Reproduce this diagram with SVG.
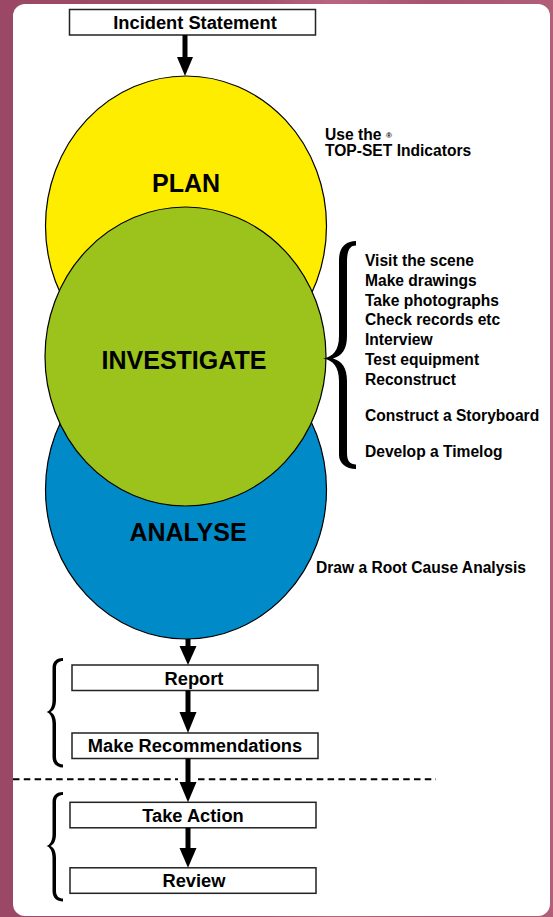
<svg xmlns="http://www.w3.org/2000/svg" width="553" height="917" viewBox="0 0 553 917">
  <defs>
    <linearGradient id="bg" x1="0" y1="0" x2="1" y2="0">
      <stop offset="0" stop-color="#9b4867"/>
      <stop offset="0.45" stop-color="#a14d6b"/>
      <stop offset="0.6" stop-color="#b8667f"/>
      <stop offset="0.78" stop-color="#a8536f"/>
      <stop offset="1" stop-color="#b15e79"/>
    </linearGradient>
    <style>
      .lbl { font-family: "Liberation Sans", Arial, sans-serif; font-weight: bold; fill: #000; }
      .box { fill: #fff; stroke: #222; stroke-width: 1.5; }
      .boxtxt { font-size: 18.3px; text-anchor: middle; }
      .big { font-size: 25px; text-anchor: middle; }
      .note { font-size: 15.6px; }
      .ell { stroke: #000; stroke-width: 1.2; }
      .shaft { stroke: #000; stroke-width: 5; fill: none; }
      .head { fill: #000; }
      .brace { fill: #000; }
    </style>
  </defs>

  <rect x="0" y="0" width="553" height="917" fill="url(#bg)"/>
  <rect x="13" y="4" width="537" height="912" rx="12" ry="12" fill="#fff"/>

  <!-- circles -->
  <g id="plan">
    <ellipse class="ell" cx="186" cy="226" rx="140.5" ry="150" fill="#ffed00"/>
    <text class="lbl big" x="186" y="191.7">PLAN</text>
  </g>
  <g id="analyse">
    <ellipse class="ell" cx="186" cy="489.5" rx="140.5" ry="149.5" fill="#008bc8"/>
    <text class="lbl big" x="188" y="541">ANALYSE</text>
  </g>
  <g id="investigate">
    <ellipse class="ell" cx="185.5" cy="356.5" rx="140.5" ry="149.5" fill="#9bc31b"/>
    <text class="lbl big" x="184" y="369.3">INVESTIGATE</text>
  </g>

  <!-- boxes -->
  <g id="incident">
    <rect class="box" x="69.5" y="9.5" width="246" height="25.5"/>
    <text class="lbl boxtxt" x="195" y="29.3">Incident Statement</text>
  </g>
  <g id="report">
    <rect class="box" x="72" y="665" width="246" height="25.5"/>
    <text class="lbl boxtxt" x="194" y="685">Report</text>
  </g>
  <g id="recommend">
    <rect class="box" x="72" y="733" width="246" height="25.5"/>
    <text class="lbl boxtxt" x="195" y="752.3">Make Recommendations</text>
  </g>
  <g id="action">
    <rect class="box" x="70" y="802.3" width="246" height="25.5"/>
    <text class="lbl boxtxt" x="193" y="821.7">Take Action</text>
  </g>
  <g id="review">
    <rect class="box" x="70" y="867.8" width="246" height="25.5"/>
    <text class="lbl boxtxt" x="194" y="887.3">Review</text>
  </g>

  <!-- annotations -->
  <g id="plan-note">
    <text class="lbl note" x="325" y="140">Use the</text>
    <text class="lbl note" x="325" y="156">TOP-SET Indicators</text>
    <text class="lbl" x="389" y="138" font-size="8" text-anchor="middle">®</text>
  </g>
  <g id="investigate-note">
    <path class="brace" d="M 356 241 C 346 241, 339 247, 339 260 L 339 336 C 339 350, 333 357, 323 358.5 C 333 360, 339 367, 339 381 L 339 455 C 339 463, 346 469, 356 469 L 356 464.5 C 350 464.5, 347 461, 347 453 L 347 381 C 347 368, 342 361, 333 358.5 C 342 356, 347 349, 347 336 L 347 262 C 347 250, 350 245.5, 356 245.5 Z"/>
    <text class="lbl note" x="365" y="266">Visit the scene</text>
    <text class="lbl note" x="365" y="285.8">Make drawings</text>
    <text class="lbl note" x="365" y="305.6">Take photographs</text>
    <text class="lbl note" x="365" y="325.4">Check records etc</text>
    <text class="lbl note" x="365" y="345.2">Interview</text>
    <text class="lbl note" x="365" y="365">Test equipment</text>
    <text class="lbl note" x="365" y="384.8">Reconstruct</text>
    <text class="lbl note" x="365" y="421">Construct a Storyboard</text>
    <text class="lbl note" x="365" y="456.7">Develop a Timelog</text>
  </g>
  <g id="analyse-note">
    <text class="lbl note" x="316" y="573.3">Draw a Root Cause Analysis</text>
  </g>
  <g id="braces">
    <path id="brace1" class="brace" d="M 63 658 C 57 658, 52.5 661, 52.5 668 L 52.5 700 C 52.5 707, 50 711, 46.5 712 C 50 713, 52.5 717, 52.5 724 L 52.5 757 C 52.5 764, 57 767.5, 63 767.5 L 63 764.5 C 59 764.5, 56 762, 56 757 L 56 724 C 56 718, 54 713.5, 50.5 712 C 54 710.5, 56 706, 56 700 L 56 668 C 56 663, 59 661, 63 661 Z"/>
    <path class="brace" transform="translate(0,134)" d="M 63 658 C 57 658, 52.5 661, 52.5 668 L 52.5 700 C 52.5 707, 50 711, 46.5 712 C 50 713, 52.5 717, 52.5 724 L 52.5 757 C 52.5 764, 57 767.5, 63 767.5 L 63 764.5 C 59 764.5, 56 762, 56 757 L 56 724 C 56 718, 54 713.5, 50.5 712 C 54 710.5, 56 706, 56 700 L 56 668 C 56 663, 59 661, 63 661 Z"/>
  </g>
  <g id="divider">
    <line x1="13" y1="779.3" x2="178" y2="779.3" stroke="#000" stroke-width="2" stroke-dasharray="6.5 4.3"/>
    <line x1="198" y1="779.3" x2="436" y2="779.3" stroke="#000" stroke-width="2" stroke-dasharray="6.5 4.3"/>
  </g>

  <!-- connectors -->
  <g id="connectors">
    <line class="shaft" x1="185" y1="35" x2="185" y2="58"/>
    <polygon class="head" points="177,57 193,57 185,76"/>
    <line class="shaft" x1="188" y1="639" x2="188" y2="647"/>
    <polygon class="head" points="179.5,646 196.5,646 188,665"/>
    <line class="shaft" x1="188" y1="690.5" x2="188" y2="713"/>
    <polygon class="head" points="179.5,712 196.5,712 188,733"/>
    <line class="shaft" x1="188" y1="758.5" x2="188" y2="783"/>
    <polygon class="head" points="179.5,782 196.5,782 188,802.3"/>
    <line class="shaft" x1="188" y1="827.8" x2="188" y2="849"/>
    <polygon class="head" points="179.5,848 196.5,848 188,867.8"/>
  </g>
</svg>
